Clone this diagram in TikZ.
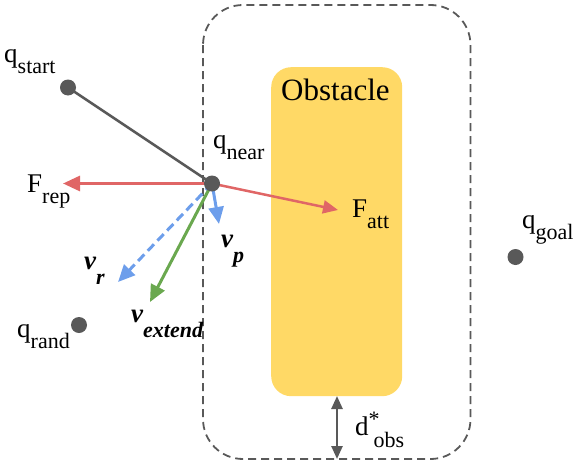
\documentclass[tikz,border=0pt]{standalone}
\usepackage{fontspec}
\setmainfont{Liberation Serif}
\usetikzlibrary{arrows.meta}
\definecolor{cred}{HTML}{E06666}
\definecolor{cblue}{HTML}{6D9EEB}
\definecolor{cgreen}{HTML}{6AA84F}
\definecolor{cgray}{HTML}{595959}
\definecolor{cyellow}{HTML}{FFD966}
\newcommand{\qlab}[2]{#1\raisebox{-11pt}{\fontsize{22}{22}\selectfont #2}}
\newcommand{\vlab}[1]{{\bfseries\itshape v\raisebox{-15pt}{\fontsize{22}{22}\selectfont #1}}}
\tikzset{
  dotnode/.style={circle,fill=cgray,inner sep=0pt,minimum size=16pt},
  lbl/.style={anchor=base west,inner sep=0pt,font=\fontsize{27}{30}\selectfont},
  vec/.style={line width=3pt,-{Triangle[length=17pt,width=15pt]}},
}
\begin{document}
\begin{tikzpicture}[x=1pt,y=-1pt]
\useasboundingbox (0,0) rectangle (577,463);
% region boxes
\draw[cgray,line width=1.8pt,dash pattern=on 8pt off 5pt,rounded corners=40pt] (203,5) rectangle (470.5,459);
\node[fill=cyellow,rounded corners=20pt,minimum width=131pt,minimum height=329pt,inner sep=0pt,anchor=north west] (obst) at (271,67) {};
\node[anchor=base west,inner sep=0pt,font=\fontsize{31}{34}\selectfont] (obstlbl) at (281,100) {Obstacle};
% coordinates
\coordinate (pstart) at (68,87.5);
\coordinate (pnear) at (212,183.5);
\coordinate (prand) at (79,325);
\coordinate (pgoal) at (515.5,257);
\coordinate (erep) at (63,183.5);
\coordinate (eatt) at (338,210);
\coordinate (er) at (118,282);
\coordinate (eext) at (150,302);
\coordinate (ep) at (219,224);
% edges
\draw[cgray,line width=2.5pt] (pstart) -- (pnear);
\draw[vec,cred] (pnear) -- (erep);
\draw[cred,line width=2.5pt,-{Triangle[length=15pt,width=13pt]}] (pnear) -- (eatt);
\draw[vec,cblue,dash pattern=on 9pt off 5pt] (pnear) -- (er);
\draw[vec,cblue] (pnear) -- (ep);
\draw[vec,cgreen] (pnear) -- (eext);
% dots
\node[dotnode] (qstart) at (pstart) {};
\node[dotnode] (qnear) at (pnear) {};
\node[dotnode] (qrand) at (prand) {};
\node[dotnode] (qgoal) at (pgoal) {};
% d obs
\coordinate (dtop) at (337,396);
\coordinate (dbot) at (337,459);
\draw[cgray,line width=2.5pt,{Triangle[length=13pt,width=11pt]}-{Triangle[length=13pt,width=11pt]}] (dtop) -- (dbot);
% labels
\node[lbl] (lstart) at (4,62) {\qlab{q}{start}};
\node[lbl] (lnear) at (213,148) {\qlab{q}{near}};
\node[lbl] (lrand) at (17,337) {\qlab{q}{rand}};
\node[lbl] (lgoal) at (522,228) {\qlab{q}{goal}};
\node[lbl] (lrep) at (27,192) {\qlab{F}{rep}};
\node[lbl] (latt) at (352,217) {\qlab{F}{att}};
\node[lbl] (lr) at (84,269) {\vlab{r}};
\node[lbl] (lext) at (131,322) {\vlab{extend}};
\node[lbl] (lp) at (221,247) {\vlab{p}};
\node[lbl] (ld) at (355,435) {d\raisebox{9pt}{\fontsize{22}{22}\selectfont *}\hspace{-6pt}\raisebox{-12pt}{\fontsize{22}{22}\selectfont obs}};
\end{tikzpicture}
\end{document}
